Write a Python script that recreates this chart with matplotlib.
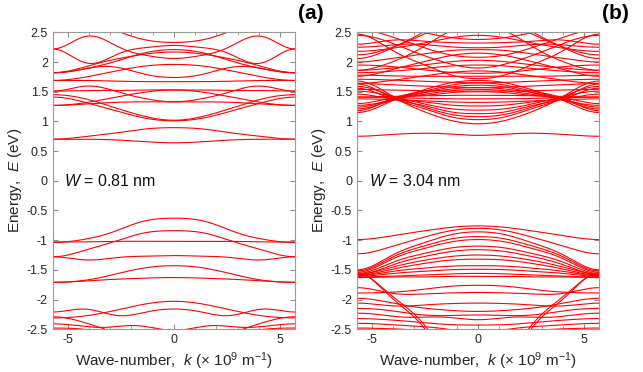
import numpy as np
import matplotlib
matplotlib.use("Agg")
import matplotlib.pyplot as plt
from matplotlib.ticker import MultipleLocator, FormatStrFormatter

plt.rcParams.update({
    "font.family": ["Liberation Sans", "DejaVu Sans"],
    "mathtext.fontset": "custom",
    "mathtext.rm": "Liberation Sans",
    "mathtext.it": "Liberation Sans:italic",
    "axes.unicode_minus": False,
})

# band energies (eV) read at k = 0, 1.425, 2.85, 4.275, 5.7 (x 10^9 m^-1); bands are even in k
k_half = [0.0, 1.425, 2.85, 4.275, 5.7]

bands_a = [
    [2.33, 2.38, 2.55, 2.75, 2.85],
    [2.06, 2.12, 2.30, 2.42, 2.22],
    [2.28, 2.24, 2.10, 2.00, 2.22],
    [2.21, 2.15, 2.00, 1.88, 1.82],
    [2.17, 2.13, 2.04, 1.91, 1.82],
    [1.74, 1.80, 1.92, 1.88, 1.82],
    [1.67, 1.67, 1.68, 1.69, 1.69],
    [1.96, 1.93, 1.84, 1.74, 1.69],
    [1.33, 1.39, 1.52, 1.59, 1.51],
    [1.53, 1.53, 1.52, 1.52, 1.51],
    [1.02, 1.09, 1.24, 1.39, 1.45],
    [1.01, 1.06, 1.19, 1.33, 1.41],
    [1.53, 1.49, 1.40, 1.31, 1.27],
    [1.33, 1.33, 1.32, 1.29, 1.27],
    [0.64, 0.66, 0.69, 0.70, 0.70],
    [0.895, 0.87, 0.80, 0.74, 0.70],
    [-0.63, -0.68, -0.86, -0.99, -1.04],
    [-0.84, -0.88, -1.03, -1.18, -1.28],
    [-1.02, -1.02, -1.02, -1.03, -1.03],
    [-1.26, -1.27, -1.30, -1.33, -1.28],
    [-1.43, -1.47, -1.58, -1.68, -1.71],
    [-1.63, -1.64, -1.66, -1.69, -1.71],
    [-2.03, -2.08, -2.19, -2.28, -2.31],
    [-2.16, -2.22, -2.26, -2.16, -2.21],
    [-2.85, -2.75, -2.55, -2.38, -2.29],
    [-2.52, -2.45, -2.46, -2.45, -2.41],
    [-2.70, -2.65, -2.58, -2.50, -2.48],
]

bands_b = [
    [0.765, 0.79, 0.80, 0.775, 0.75],
    [0.96, 1.03, 1.21, 1.48, 1.68],
    [1.03, 1.09, 1.25, 1.44, 1.63],
    [1.08, 1.13, 1.28, 1.46, 1.59],
    [1.13, 1.17, 1.29, 1.41, 1.56],
    [1.19, 1.22, 1.32, 1.44, 1.51],
    [1.26, 1.28, 1.34, 1.39, 1.46],
    [1.50, 1.48, 1.43, 1.38, 1.30],
    [1.54, 1.51, 1.44, 1.34, 1.27],
    [1.57, 1.54, 1.47, 1.35, 1.24],
    [1.61, 1.57, 1.46, 1.33, 1.21],
    [1.65, 1.60, 1.49, 1.35, 1.18],
    [1.69, 1.64, 1.50, 1.31, 1.15],
    [1.32, 1.33, 1.35, 1.37, 1.38],
    [1.38, 1.38, 1.39, 1.40, 1.41],
    [1.44, 1.44, 1.43, 1.42, 1.41],
    [1.51, 1.51, 1.52, 1.53, 1.54],
    [1.57, 1.58, 1.60, 1.62, 1.64],
    [1.65, 1.66, 1.68, 1.70, 1.71],
    [1.76, 1.76, 1.76, 1.77, 1.78],
    [1.81, 1.83, 1.88, 1.93, 1.95],
    [1.85, 1.82, 1.75, 1.68, 1.64],
    [1.95, 1.93, 1.88, 1.84, 1.82],
    [2.03, 2.00, 1.94, 1.89, 1.86],
    [2.15, 2.10, 1.98, 1.85, 1.76],
    [2.21, 2.19, 2.12, 2.05, 2.00],
    [2.32, 2.33, 2.36, 2.36, 2.30],
    [2.38, 2.42, 2.52, 2.60, 2.62],
    [2.45, 2.40, 2.30, 2.22, 2.18],
    [2.62, 2.50, 2.20, 1.97, 1.86],
    [2.75, 2.65, 2.42, 2.22, 2.12],
    [2.90, 2.75, 2.45, 2.20, 2.06],
    [1.72, 1.80, 2.00, 2.25, 2.47],
    [1.90, 1.98, 2.15, 2.35, 2.45],
    [2.08, 2.13, 2.28, 2.45, 2.55],
    [2.24, 2.26, 2.30, 2.28, 2.25],
    [-0.76, -0.79, -0.86, -0.94, -0.99],
    [-0.80, -0.85, -0.98, -1.13, -1.23],
    [-0.86, -0.92, -1.08, -1.30, -1.50],
    [-0.94, -0.99, -1.13, -1.33, -1.52],
    [-0.99, -1.04, -1.17, -1.36, -1.54],
    [-1.10, -1.14, -1.25, -1.41, -1.56],
    [-1.16, -1.20, -1.30, -1.45, -1.58],
    [-1.25, -1.28, -1.36, -1.48, -1.57],
    [-1.32, -1.34, -1.41, -1.51, -1.59],
    [-1.43, -1.44, -1.48, -1.54, -1.60],
    [-1.49, -1.50, -1.53, -1.57, -1.61],
    [-1.56, -1.57, -1.59, -1.61, -1.62],
    [-1.61, -1.61, -1.62, -1.62, -1.63],
    [-3.30, -3.00, -2.35, -1.90, -1.55],
    [-3.20, -2.92, -2.30, -1.87, -1.56],
    [-1.76, -1.78, -1.84, -1.88, -1.89],
    [-1.88, -1.89, -1.91, -1.88, -1.80],
    [-2.06, -2.07, -2.10, -2.10, -2.06],
    [-2.20, -2.18, -2.13, -2.04, -1.98],
    [-2.26, -2.27, -2.25, -2.18, -2.15],
    [-2.34, -2.30, -2.30, -2.27, -2.23],
    [-2.43, -2.42, -2.38, -2.34, -2.32],
    [-2.55, -2.50, -2.45, -2.42, -2.40],
    [-2.65, -2.60, -2.52, -2.49, -2.48],
]

widths = ["0.81", "3.04"]
panel_tags = ["(a)", "(b)"]

K_EDGE = 5.7
kk = np.asarray(k_half)
# smooth curve through the read points (cosine series, flat at 0 and zone edge)
M = np.cos(np.outer(kk, np.arange(len(kk))) * np.pi / K_EDGE)
k_fine = np.linspace(-K_EDGE, K_EDGE, 400)
M_fine = np.cos(np.outer(np.abs(k_fine), np.arange(len(kk))) * np.pi / K_EDGE)


def draw_panel(ax, bands, width, tag):
    for b in bands:
        coef = np.linalg.solve(M, np.asarray(b))
        ax.plot(k_fine, M_fine @ coef, color="#ff0000", lw=0.8)
    ax.set_xlim(-K_EDGE, K_EDGE)
    ax.set_ylim(-2.5, 2.5)
    ax.xaxis.set_major_locator(MultipleLocator(5))
    ax.xaxis.set_minor_locator(MultipleLocator(1))
    ax.yaxis.set_major_locator(MultipleLocator(0.5))
    ax.yaxis.set_major_formatter(FormatStrFormatter("%g"))
    ax.tick_params(which="both", direction="in", top=True, right=True,
                   color="#8a8a8a", labelcolor="#262626", labelsize=9)
    ax.tick_params(which="major", length=3.5)
    ax.tick_params(which="minor", length=2.5)
    for s in ax.spines.values():
        s.set_color("#9a9a9a")
        s.set_linewidth(0.8)
    ax.set_xlabel(r"Wave-number,  $k$ (× 10$^9$ m$^{-1}$)", fontsize=11,
                  color="#262626", labelpad=3)
    ax.set_ylabel(r"Energy,  $E$ (eV)", fontsize=11, color="#262626", labelpad=2)
    ax.text(-5.15, 0.0, r"$W$ = " + width + " nm", fontsize=11.5,
            color="#111111", va="center", ha="left")
    ax.text(1.01, 1.065, tag, transform=ax.transAxes, fontsize=15,
            fontweight="bold", ha="left", va="center")


fig = plt.figure(figsize=(6.43, 3.72), dpi=100)
ax_a = fig.add_axes([0.082, 0.115, 0.377, 0.798])
ax_b = fig.add_axes([0.555, 0.115, 0.377, 0.798])
draw_panel(ax_a, bands_a, widths[0], panel_tags[0])
draw_panel(ax_b, bands_b, widths[1], panel_tags[1])

fig.savefig("out.png", dpi=100, facecolor="white")
